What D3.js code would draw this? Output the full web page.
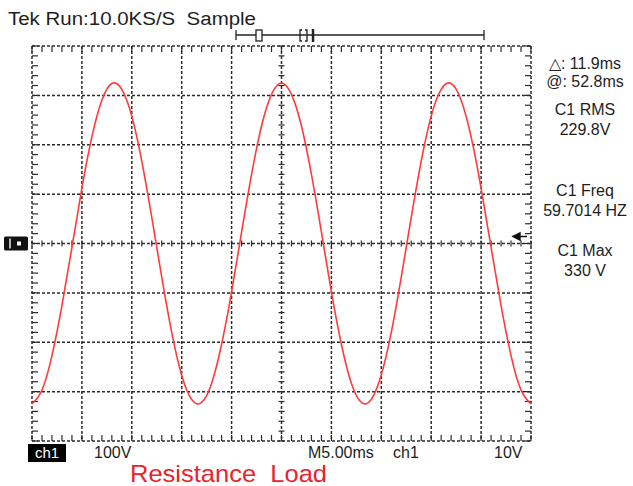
<!DOCTYPE html>
<html>
<head>
<meta charset="utf-8">
<script src="https://cdn.jsdelivr.net/npm/d3@7/dist/d3.min.js"></script>
<style>
  body { margin: 0; background: #fff; }
  text { font-family: "Liberation Sans", Arial, sans-serif; white-space: pre; }
</style>
</head>
<body>
<svg id="scope" width="633" height="486"></svg>
<script>
// sample times (ms) and ch1 voltage
var timeMs = [0, 1, 2, 3, 4, 5, 6, 7, 8, 9, 10, 11, 12, 13, 14, 15, 16, 17, 18, 19, 20,
    21, 22, 23, 24, 25, 26, 27, 28, 29, 30, 31, 32, 33, 34, 35, 36, 37, 38, 39, 40,
    41, 42, 43, 44, 45, 46, 47, 48, 49, 50];
var volts = [-325, -297, -227, -126, -8, 112, 216, 290, 324, 312, 258, 167, 53, -68, -180, -267, -316, -322, -283, -204, -98,
    23, 140, 238, 302, 325, 302, 238, 140, 23, -98, -204, -283, -322, -316, -266, -180, -68, 53, 167, 258,
    312, 324, 290, 216, 112, -8, -126, -227, -297, -325];

// graticule divisions
var timeDivs = [0, 5, 10, 15, 20, 25, 30, 35, 40, 45, 50];
var voltDivs = [-400, -300, -200, -100, 0, 100, 200, 300, 400];

// readouts
var headerText = "Tek Run:10.0KS/S  Sample";
var sideLabels = [
    ["\u25B3: 11.9ms", "@: 52.8ms"],
    ["C1 RMS", "229.8V"],
    ["C1 Freq", "59.7014 HZ"],
    ["C1 Max", "330 V"]
];
var bottomLabels = ["100V", "M5.00ms", "ch1", "10V"];
var caption = "Resistance  Load";

drawScope();

function drawScope() {
    var svg = d3.select("#scope");
    var pLeft = 32, pRight = 531, pTop = 46, pBottom = 441;

    var x = d3.scaleLinear().domain([0, 50]).range([pLeft, pRight]);
    var y = d3.scaleLinear().domain([-400, 400]).range([pBottom, pTop]);

    var gridColor = "#2b2b2b";

    // major dashed grid
    var grid = svg.append("g").attr("stroke", gridColor).attr("stroke-width", 1.5)
        .attr("stroke-dasharray", "3,2").attr("fill", "none");

    grid.selectAll("line.v")
        .data(timeDivs)
        .enter().append("line")
        .attr("class", "v")
        .attr("x1", function (d) { return x(d); })
        .attr("x2", function (d) { return x(d); })
        .attr("y1", pTop)
        .attr("y2", pBottom);

    grid.selectAll("line.h")
        .data(voltDivs)
        .enter().append("line")
        .attr("class", "h")
        .attr("x1", pLeft)
        .attr("x2", pRight)
        .attr("y1", function (d) { return y(d); })
        .attr("y2", function (d) { return y(d); });

    // minor ticks: border (inward) and centre cross
    var minorT = d3.range(0, 50.01, 1);
    var minorV = d3.range(-400, 400.01, 20);
    var ticks = svg.append("g").attr("stroke", gridColor).attr("stroke-width", 1.2);

    minorT.forEach(function (t) {
        ticks.append("line").attr("x1", x(t)).attr("x2", x(t)).attr("y1", pTop).attr("y2", pTop + 6);
        ticks.append("line").attr("x1", x(t)).attr("x2", x(t)).attr("y1", pBottom).attr("y2", pBottom - 6);
        ticks.append("line").attr("x1", x(t)).attr("x2", x(t)).attr("y1", y(0) - 3).attr("y2", y(0) + 3);
    });
    minorV.forEach(function (v) {
        ticks.append("line").attr("x1", pLeft).attr("x2", pLeft + 6).attr("y1", y(v)).attr("y2", y(v));
        ticks.append("line").attr("x1", pRight).attr("x2", pRight - 6).attr("y1", y(v)).attr("y2", y(v));
        ticks.append("line").attr("x1", x(25) - 3).attr("x2", x(25) + 3).attr("y1", y(v)).attr("y2", y(v));
    });

    // waveform
    var line = d3.line()
        .x(function (d, i) { return x(timeMs[i]); })
        .y(function (d) { return y(d); })
        .curve(d3.curveNatural);

    svg.append("path")
        .datum(volts)
        .attr("d", line)
        .attr("fill", "none")
        .attr("stroke", "#ff3b3b")
        .attr("stroke-width", 1.6);

    // header
    svg.append("text")
        .attr("x", 8).attr("y", 25)
        .attr("font-size", 18).attr("fill", "#1e1e1e")
        .attr("textLength", 248).attr("lengthAdjust", "spacingAndGlyphs")
        .text(headerText);

    // record position bar
    var bar = svg.append("g").attr("stroke", "#222").attr("stroke-width", 1.3).attr("fill", "none");
    bar.append("line").attr("x1", 236).attr("x2", 484).attr("y1", 35).attr("y2", 35);
    bar.append("line").attr("x1", 236).attr("x2", 236).attr("y1", 30).attr("y2", 40);
    bar.append("line").attr("x1", 484).attr("x2", 484).attr("y1", 30).attr("y2", 40);
    bar.append("rect").attr("x", 256).attr("y", 30).attr("width", 6).attr("height", 11).attr("fill", "#fff");
    bar.append("path").attr("d", "M302,30 h-2 v11 h2 M305,30 h2 v11 h-2");
    bar.append("line").attr("x1", 313).attr("x2", 313).attr("y1", 29).attr("y2", 42).attr("stroke-width", 2.5);

    // ground marker on the left
    var gm = svg.append("g");
    gm.append("rect").attr("x", 4).attr("y", y(0) - 7).attr("width", 24).attr("height", 14).attr("rx", 1.5).attr("fill", "#111");
    gm.append("line").attr("x1", 10).attr("x2", 10).attr("y1", y(0) - 5).attr("y2", y(0) + 5)
        .attr("stroke", "#fff").attr("stroke-width", 1.4);
    gm.append("rect").attr("x", 17).attr("y", y(0) - 2).attr("width", 4).attr("height", 4).attr("fill", "#fff");

    // trigger level arrow on the right
    svg.append("path")
        .attr("d", "M513," + (y(0) - 7) + " l7,-3.5 v7 z M519," + (y(0) - 7) + " h8")
        .attr("fill", "#111").attr("stroke", "#111").attr("stroke-width", 1.4);

    // side readouts
    var side = svg.append("g").attr("text-anchor", "middle").attr("font-size", 16).attr("fill", "#1e1e1e");
    var sideY = [[69, 87], [115, 135], [196, 216], [256, 276]];
    sideLabels.forEach(function (pair, i) {
        side.append("text").attr("x", 585).attr("y", sideY[i][0]).text(pair[0]);
        side.append("text").attr("x", 585).attr("y", sideY[i][1]).text(pair[1]);
    });

    // bottom status line
    svg.append("rect").attr("x", 28).attr("y", 444).attr("width", 38).attr("height", 18).attr("fill", "#000");
    svg.append("text").attr("x", 47).attr("y", 458).attr("text-anchor", "middle")
        .attr("font-size", 15).attr("fill", "#fff").text("ch1");

    var bottomX = [94, 308, 393, 494];
    var bottomRow = svg.append("g").attr("font-size", 16).attr("fill", "#1e1e1e");
    bottomLabels.forEach(function (s, i) {
        bottomRow.append("text").attr("x", bottomX[i]).attr("y", 458).text(s);
    });

    svg.append("text")
        .attr("x", 130).attr("y", 482)
        .attr("font-size", 24).attr("fill", "#e8232a")
        .attr("textLength", 197).attr("lengthAdjust", "spacingAndGlyphs")
        .text(caption);
}
</script>
</body>
</html>
